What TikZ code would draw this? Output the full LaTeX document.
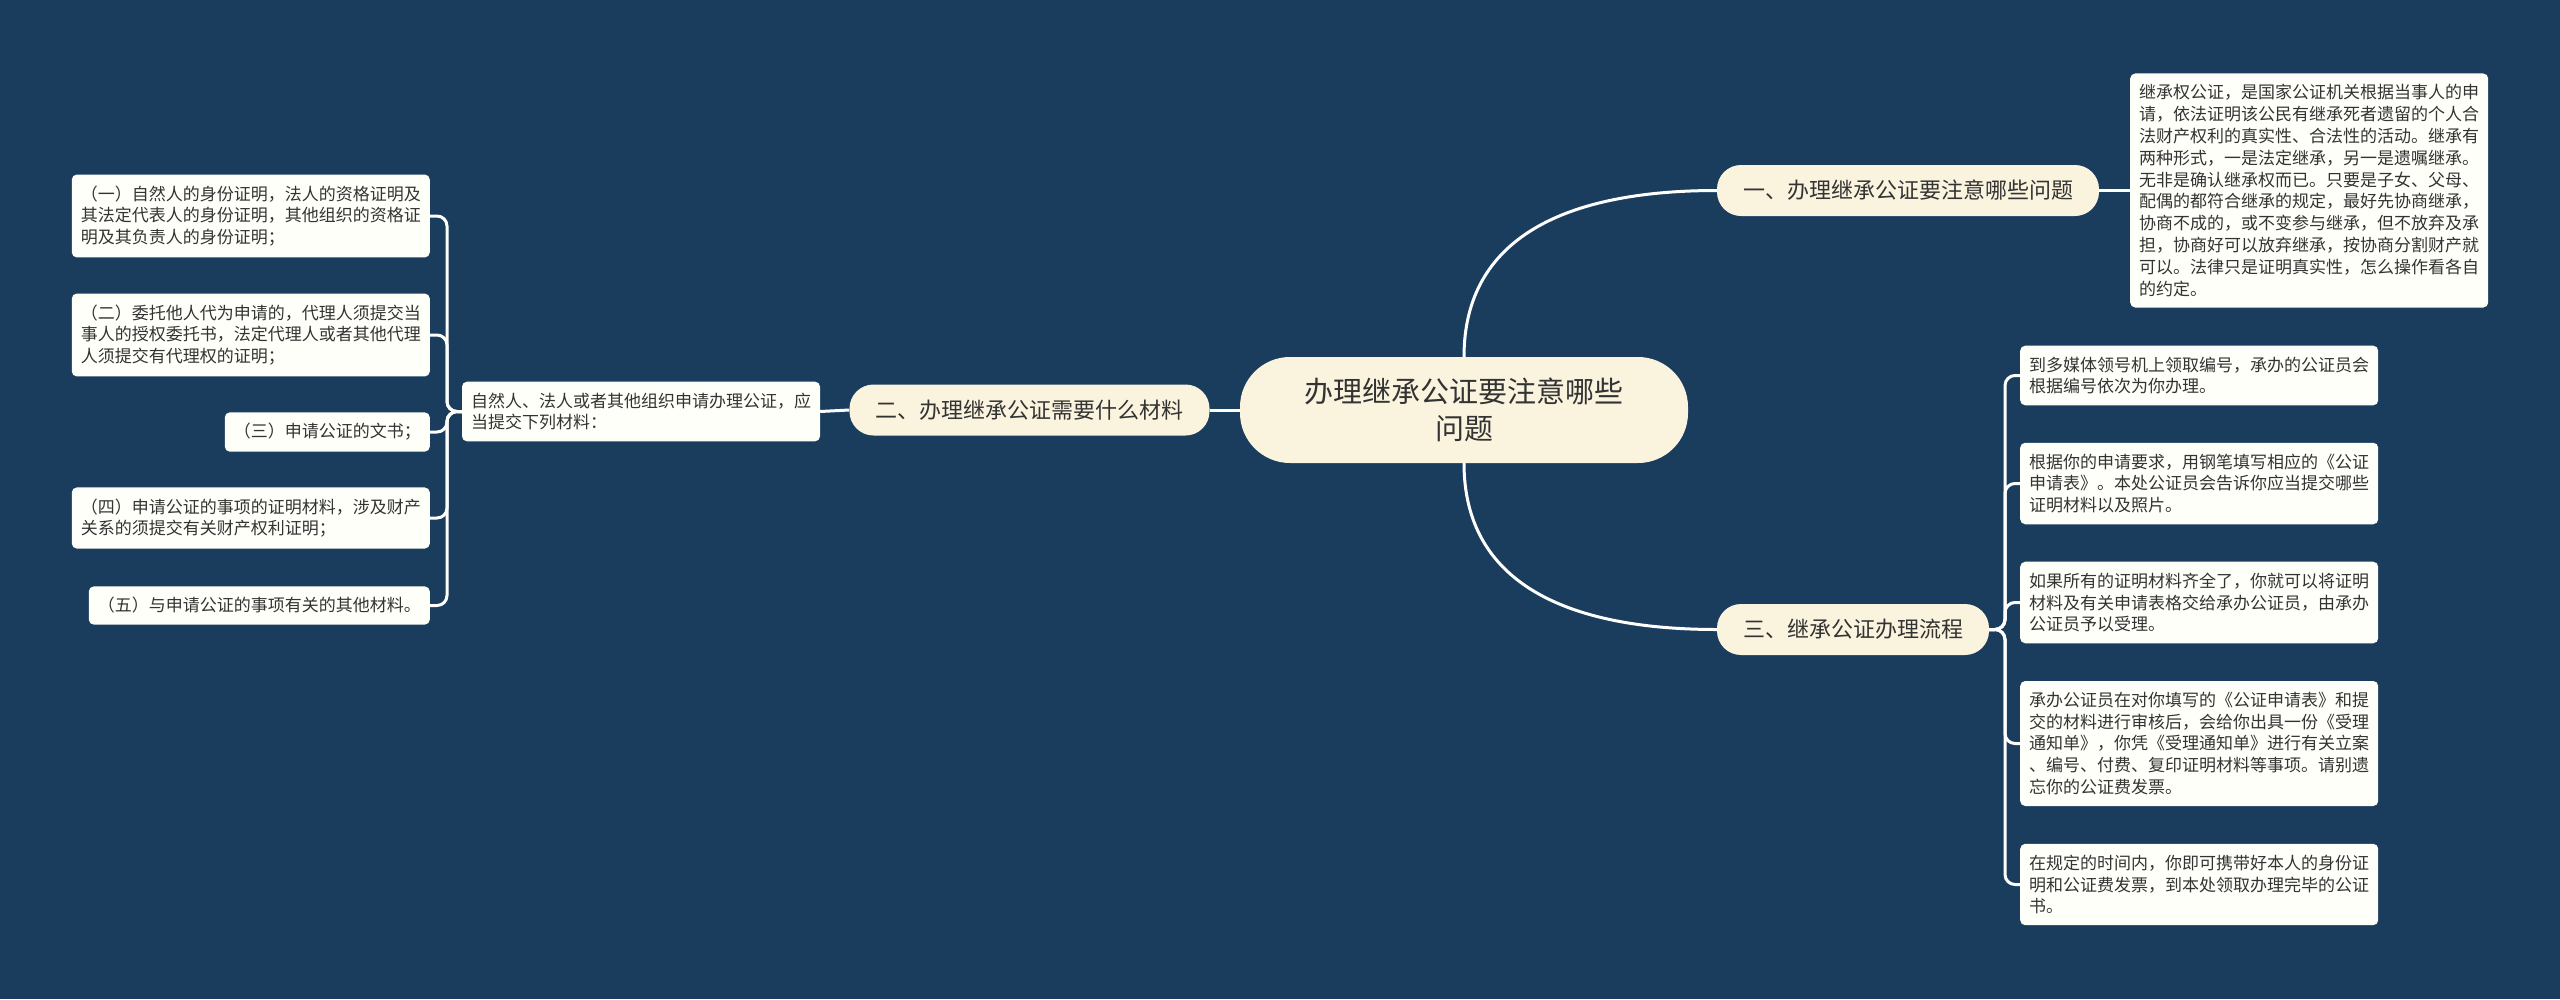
\documentclass[tikz,border=0pt]{standalone}
\usepackage{fontspec}
\setmainfont{Noto Sans CJK SC}
\definecolor{bgblue}{RGB}{26,61,94}
\definecolor{cream}{RGB}{250,243,222}
\definecolor{leafwhite}{RGB}{255,255,250}
\definecolor{darktext}{RGB}{51,51,51}

\begin{document}
\begin{tikzpicture}[x=1pt, y=-1pt,
    topic/.style={rectangle, rounded corners=50pt, fill=cream, text=darktext, align=center, font=\fontsize{29}{37}\selectfont, minimum width=448pt, minimum height=106pt},
    branch/.style={rectangle, rounded corners=24pt, fill=cream, text=darktext, font=\fontsize{22}{26}\selectfont, inner xsep=26pt, inner ysep=0pt, minimum height=51pt},
    leaf/.style={rectangle, rounded corners=5pt, fill=leafwhite, text=darktext, align=left, font=\fontsize{17}{21.8}\selectfont, inner xsep=9pt, inner ysep=11pt},
    link/.style={draw=white, line width=3pt}
]

% Background
\fill[bgblue] (0,0) rectangle (2560,999);

% Centre topic and main branches
\node[topic] (root) at (1464,410) {办理继承公证要注意哪些\\问题};
\node[branch] (b1) at (1908,190.5) {一、办理继承公证要注意哪些问题};
\node[branch] (b2) at (1029.5,410) {二、办理继承公证需要什么材料};
\node[branch] (b3) at (1853,629.5) {三、继承公证办理流程};

% Branch one
\node[leaf, anchor=west, text width=340pt] (b1text) at (2130,190.5) {继承权公证，是国家公证机关根据当事人的申\\请，依法证明该公民有继承死者遗留的个人合\\法财产权利的真实性、合法性的活动。继承有\\两种形式，一是法定继承，另一是遗嘱继承。\\无非是确认继承权而已。只要是子女、父母、\\配偶的都符合继承的规定，最好先协商继承，\\协商不成的，或不变参与继承，但不放弃及承\\担，协商好可以放弃继承，按协商分割财产就\\可以。法律只是证明真实性，怎么操作看各自\\的约定。};

% Branch two
\node[leaf, text width=340pt] (b2intro) at (641,411.5) {自然人、法人或者其他组织申请办理公证，应\\当提交下列材料：};
\node[leaf, anchor=east, text width=340pt] (m1) at (430,216) {（一）自然人的身份证明，法人的资格证明及\\其法定代表人的身份证明，其他组织的资格证\\明及其负责人的身份证明；};
\node[leaf, anchor=east, text width=340pt] (m2) at (430,335) {（二）委托他人代为申请的，代理人须提交当\\事人的授权委托书，法定代理人或者其他代理\\人须提交有代理权的证明；};
\node[leaf, anchor=east] (m3) at (430,432) {（三）申请公证的文书；};
\node[leaf, anchor=east, text width=340pt] (m4) at (430,518) {（四）申请公证的事项的证明材料，涉及财产\\关系的须提交有关财产权利证明；};
\node[leaf, anchor=east] (m5) at (430,605.5) {（五）与申请公证的事项有关的其他材料。};

% Branch three
\node[leaf, anchor=west, text width=340pt] (s1) at (2020,375.5) {到多媒体领号机上领取编号，承办的公证员会\\根据编号依次为你办理。};
\node[leaf, anchor=west, text width=340pt] (s2) at (2020,483.5) {根据你的申请要求，用钢笔填写相应的《公证\\申请表》。本处公证员会告诉你应当提交哪些\\证明材料以及照片。};
\node[leaf, anchor=west, text width=340pt] (s3) at (2020,602.5) {如果所有的证明材料齐全了，你就可以将证明\\材料及有关申请表格交给承办公证员，由承办\\公证员予以受理。};
\node[leaf, anchor=west, text width=340pt] (s4) at (2020,743.5) {承办公证员在对你填写的《公证申请表》和提\\交的材料进行审核后，会给你出具一份《受理\\通知单》，你凭《受理通知单》进行有关立案\\、编号、付费、复印证明材料等事项。请别遗\\忘你的公证费发票。};
\node[leaf, anchor=west, text width=340pt] (s5) at (2020,884.5) {在规定的时间内，你即可携带好本人的身份证\\明和公证费发票，到本处领取办理完毕的公证\\书。};

% Spines
\coordinate (lspine) at (447,411.5);
\coordinate (rspine) at (2005,629.5);

% Connections
\draw[link] (root.north) .. controls +(0,-120) and +(-150,0) .. (b1.west);
\draw[link] (root.south) .. controls +(0,120) and +(-150,0) .. (b3.west);
\draw[link] (root.west) -- (b2.east);
\draw[link] (b2.west) -- (b2intro.east);
\draw[link] (b1.east) -- (b1text.west);
\foreach \i in {1,...,5}
    \draw[link, rounded corners=10pt] (b2intro.west) -- (lspine) |- (m\i.east);
\foreach \i in {1,...,5}
    \draw[link, rounded corners=10pt] (b3.east) -- (rspine) |- (s\i.west);

\end{tikzpicture}
\end{document}
